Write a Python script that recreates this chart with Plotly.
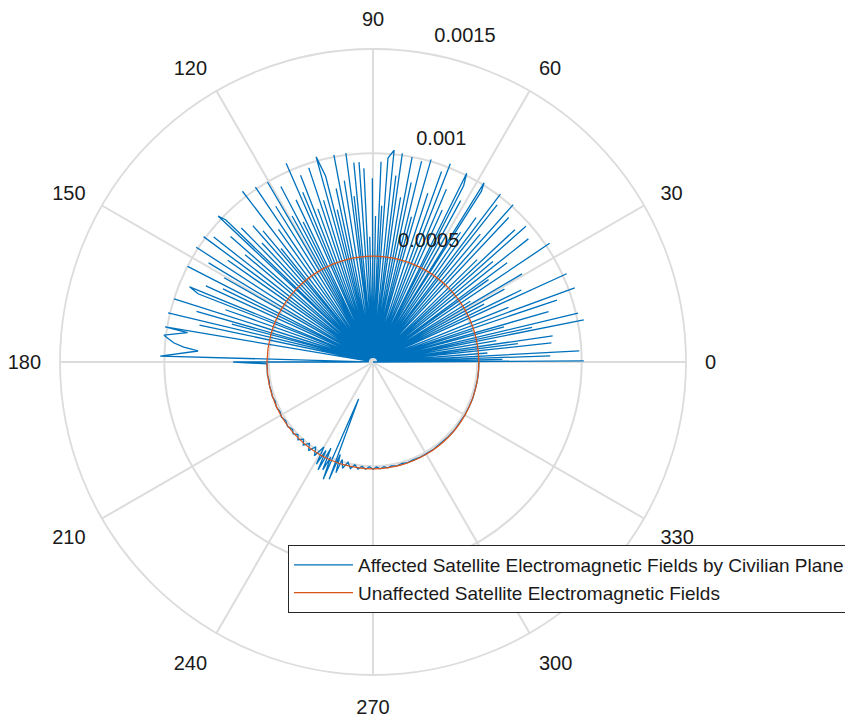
import numpy as np
import plotly.graph_objects as go

# ---------------- data (radius values in units of 1e-3) ----------------
affected_theta = [
    0, 0.3, 0.8, 1.2, 1.6, 2.0, 2.5, 3.1, 3.8, 4.5, 5.2, 6.1, 6.6, 7.2, 7.7, 8.3, 9.0, 9.8, 10.5, 11.3,
    11.8, 12.3, 12.8, 13.4, 14.2, 15.0, 15.5, 16.0, 16.8, 17.5, 18.0, 18.6, 19.4, 20.2, 21.0, 22.0, 23.2,
    24.5, 25.2, 25.9, 26.7, 27.5, 28.2, 29.0, 29.8, 30.6, 31.3, 32.0, 33.0, 33.9, 34.7, 35.5, 36.0, 36.5,
    37.5, 38.4, 39.2, 40.0, 40.8, 41.6, 42.3, 43.0, 43.8, 44.5, 45.6, 46.8, 47.5, 48.3, 49.2, 50.0, 50.8,
    51.7, 52.2, 52.8, 53.6, 54.5, 55.2, 56.0, 56.8, 57.6, 58.2, 59.1, 60.0, 60.8, 61.5, 62.2, 62.8, 63.6,
    64.5, 65.5, 66.2, 67.0, 67.8, 68.7, 69.5, 70.2, 71.1, 72.0, 73.0, 74.0, 74.6, 75.2, 75.8, 76.4, 77.2,
    78.0, 78.6, 79.2, 79.9, 80.5, 81.2, 82.0, 82.5, 83.0, 83.6, 84.3, 85.8, 86.3, 86.8, 87.2, 87.7, 88.4,
    89.0, 89.6, 90.2, 90.8, 91.5, 92.1, 92.7, 93.3, 94.0, 94.8, 95.5, 96.0, 96.5, 97.0, 97.4, 98.2, 99.0,
    99.8, 100.7, 101.3, 102.0, 102.6, 103.2, 103.8, 104.3, 105.5, 106.2, 107.0, 107.6, 108.3, 109.0, 109.8,
    110.5, 111.2, 111.8, 112.5, 113.0, 113.6, 114.5, 115.4, 116.0, 116.5, 117.1, 117.7, 118.3, 119.0, 119.7,
    120.4, 121.2, 122.0, 123.0, 123.9, 124.7, 125.5, 126.5, 127.4, 128.2, 129.0, 129.5, 130.0, 130.7, 131.4,
    132.2, 133.0, 133.8, 134.5, 135.2, 136.0, 136.7, 137.6, 138.6, 139.3, 140.0, 141.0, 141.9, 142.7, 143.5,
    144.2, 145.0, 146.0, 147.0, 148.0, 148.9, 149.7, 150.5, 151.6, 152.7, 153.3, 154.0, 154.8, 155.5, 156.6,
    157.7, 158.7, 159.6, 160.5, 161.5, 162.4, 163.2, 164.0, 164.5, 165.0, 165.8, 166.5, 167.2, 168.0, 169.2,
    170.4, 171.0, 172.7, 174.5, 175.5, 176.4, 178.4, 179.5, 180.0, 180.0,
    181, 184, 187, 190, 193, 196, 199, 202, 205, 208, 211, 214, 217, 220, 222, 224, 226, 228, 230, 232,
    234, 236, 238, 240, 241, 242, 243, 244, 245, 246, 247, 248.7, 249.5, 250.5, 251.5, 252.5, 254, 256,
    258, 260, 262, 264, 266, 268, 270, 272, 274, 276, 278, 280, 283, 286, 289, 292, 296, 300, 305, 310,
    315, 320, 325, 330, 335, 340, 345, 350, 355, 360,
]
affected_r = [
    0.00, 1.01, 0.02, 0.62, 0.02, 0.85, 0.02, 0.99, 0.02, 0.55, 0.02, 0.86, 0.02, 0.70, 0.02, 0.87, 0.02, 0.60, 0.02, 1.03,
    0.02, 0.78, 0.02, 1.01, 0.02, 0.65, 0.02, 0.875, 0.02, 0.50, 0.02, 0.93, 0.02, 1.03, 0.02, 0.70, 0.02,
    1.02, 0.02, 0.79, 0.02, 0.60, 0.02, 0.72, 0.02, 0.83, 0.02, 0.55, 0.02, 1.02, 0.02, 0.68, 0.02, 0.80,
    0.02, 0.95, 0.02, 0.75, 0.02, 0.98, 0.02, 0.93, 0.02, 0.70, 0.02, 0.95, 0.02, 1.01, 0.02, 0.80, 0.02,
    0.96, 0.02, 1.01, 0.02, 0.85, 0.02, 0.75, 0.02, 0.97, 1.01, 0.02, 0.70, 0.02, 0.88, 0.02, 0.95, 1.01,
    0.02, 0.80, 0.02, 0.90, 0.02, 1.02, 0.02, 0.97, 0.02, 0.85, 0.02, 1.01, 0.02, 0.72, 0.02, 0.99, 0.02,
    0.88, 0.02, 1.00, 0.02, 0.80, 0.02, 1.01, 0.02, 0.90, 0.02, 1.02, 0.98, 0.02, 0.75, 0.02, 0.96, 0.02,
    0.70, 0.02, 0.88, 0.02, 0.60, 0.02, 0.93, 0.02, 0.96, 0.02, 0.96, 0.02, 0.80, 0.02, 1.01, 0.02, 0.88,
    0.02, 1.01, 0.02, 0.85, 0.02, 0.75, 0.02, 0.92, 1.02, 0.02, 0.81, 0.02, 0.98, 0.02, 0.78,
    0.02, 0.96, 0.02, 0.88, 0.02, 1.04, 0.02, 0.86, 0.02, 0.75, 0.02, 0.95, 0.02, 0.80, 0.02,
    1.00, 0.02, 0.88, 0.02, 1.01, 0.02, 0.78, 0.02, 1.03, 0.02, 0.70, 0.02, 0.82, 0.02, 0.87,
    0.02, 0.78, 0.02, 0.90, 0.02, 0.98, 1.02, 0.02, 0.91, 0.02, 0.80, 0.02, 0.97, 0.02, 1.01,
    0.02, 0.85, 0.02, 1.01, 0.02, 0.92, 0.02, 0.82, 0.02, 1.00, 0.02, 0.80, 0.02, 0.88, 0.02,
    0.95, 0.90, 0.02, 0.75, 0.02, 1.00, 0.02, 0.88, 0.02, 0.70, 0.02, 1.01, 0.02, 0.85, 0.02,
    1.01, 0.90, 1.01, 0.96, 0.91, 0.84, 1.02, 0.02, 0.13, 0.67,
    0.508, 0.508, 0.51, 0.506, 0.509, 0.507, 0.51, 0.505, 0.511, 0.505, 0.512, 0.504, 0.513, 0.503, 0.515, 0.50, 0.518, 0.498, 0.52, 0.495,
    0.525, 0.49, 0.53, 0.47, 0.56, 0.48, 0.58, 0.46, 0.57, 0.50, 0.61, 0.19, 0.60, 0.47, 0.56, 0.49, 0.53, 0.495,
    0.522, 0.50, 0.518, 0.503, 0.515, 0.502, 0.514, 0.504, 0.513, 0.505, 0.512, 0.506, 0.511, 0.506, 0.51, 0.507, 0.509, 0.508, 0.509, 0.507,
    0.508, 0.509, 0.507, 0.508, 0.508, 0.509, 0.507, 0.508, 0.508, 0.508,
]

unaffected_theta = [0, 15, 30, 45, 60, 75, 90, 105, 120, 135, 150, 165, 180, 195, 210, 225, 240, 255,
                    270, 285, 300, 315, 330, 345, 360]
unaffected_r = [0.507, 0.507, 0.507, 0.507, 0.507, 0.507, 0.507, 0.507, 0.507, 0.507, 0.507, 0.507, 0.508,
                0.509, 0.51, 0.511, 0.512, 0.512, 0.512, 0.512, 0.511, 0.51, 0.509, 0.508, 0.507]

angle_ticks = [0, 30, 60, 90, 120, 150, 180, 210, 240, 270, 300, 330]
angle_labels = ["0", "30", "60", "90", "120", "150", "180", "210", "240", "270", "300", "330"]
radial_ticks = [0.0005, 0.001, 0.0015]
radial_labels = ["0.0005", "0.001", "0.0015"]

series_names = ["Affected Satellite Electromagnetic Fields by Civilian Plane",
                "Unaffected Satellite Electromagnetic Fields"]

# ---------------- figure ----------------
FONT = "Liberation Sans, Arial, Helvetica, sans-serif"
TXT = "#1a1a1a"
GRID = "#dcdcdc"
fig = go.Figure()

fig.add_trace(go.Scatterpolar(
    theta=affected_theta, r=np.array(affected_r) * 1e-3, mode="lines",
    line=dict(color="#0072BD", width=1.3), name=series_names[0]))
fig.add_trace(go.Scatterpolar(
    theta=unaffected_theta, r=np.array(unaffected_r) * 1e-3, mode="lines",
    line=dict(color="#D95319", width=1.2, shape="spline"), name=series_names[1]))
fig.add_trace(go.Scatterpolar(
    theta=[80] * len(radial_ticks), r=radial_ticks, mode="markers+text", text=radial_labels,
    marker=dict(size=9.6, opacity=0), textposition="top right",
    textfont=dict(size=20, color=TXT, family=FONT),
    showlegend=False, hoverinfo="skip"))

fig.update_layout(
    width=853, height=722,
    margin=dict(l=0, r=0, t=0, b=0),
    paper_bgcolor="white",
    font=dict(family=FONT, size=20, color=TXT),
    polar=dict(
        domain=dict(x=[52 / 853, 678 / 853], y=[55 / 722, 681 / 722]),
        bgcolor="white",
        radialaxis=dict(range=[0, 0.0015], tickvals=radial_ticks, showticklabels=False,
                        ticks="", showline=False, gridcolor=GRID, gridwidth=1.8),
        angularaxis=dict(rotation=0, direction="counterclockwise", tickmode="array",
                         tickvals=angle_ticks, ticktext=angle_labels,
                         ticks="outside", ticklen=14, tickcolor="rgba(0,0,0,0)",
                         tickfont=dict(size=20, family=FONT, color=TXT),
                         showline=True, linecolor=GRID, linewidth=1.8,
                         gridcolor=GRID, gridwidth=1.8),
    ),
    legend=dict(x=280 / 853, y=1 - 537 / 722, xanchor="left", yanchor="top",
                bgcolor="white", bordercolor="#262626", borderwidth=1,
                font=dict(size=19, family=FONT, color=TXT),
                itemwidth=59, tracegroupgap=0),
    showlegend=True,
)

fig.write_html("out.html")
